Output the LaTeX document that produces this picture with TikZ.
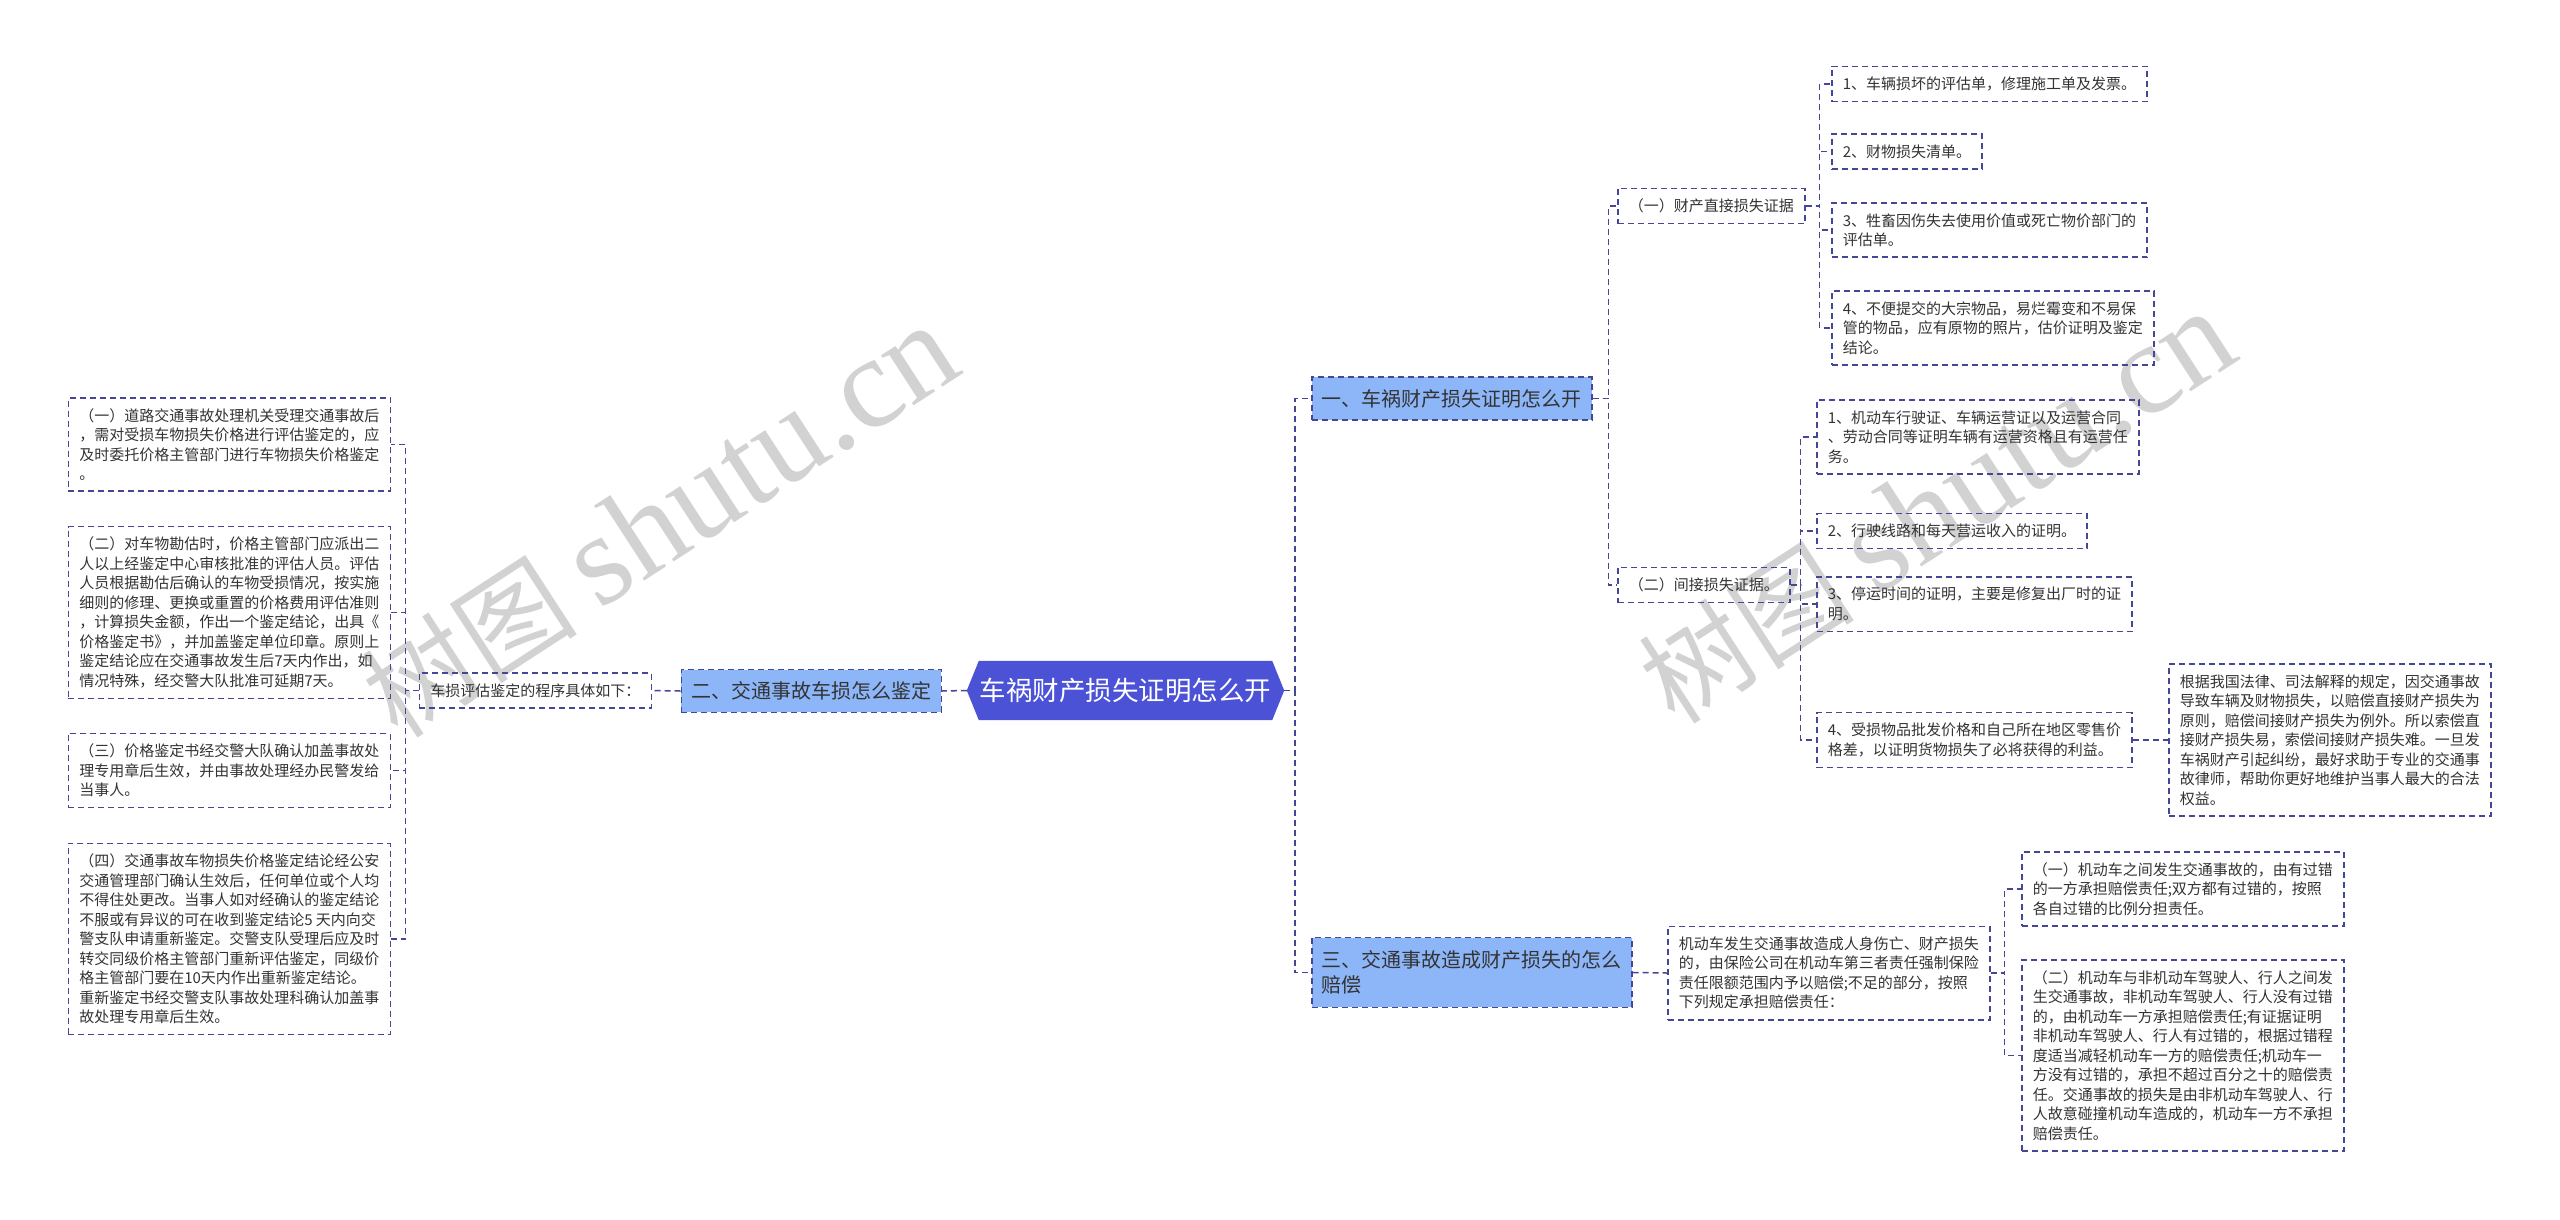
\documentclass[tikz,border=0pt]{standalone}
\usepackage{fontspec}
\setmainfont{Noto Sans CJK SC}
\newfontfamily\wmlatin{Liberation Serif}
\usetikzlibrary{positioning}
\usetikzlibrary{backgrounds}
\definecolor{linec}{RGB}{70,70,150}
\definecolor{rootfill}{RGB}{75,82,214}
\definecolor{topicfill}{RGB}{141,182,249}
\definecolor{leaftext}{RGB}{51,51,51}
\definecolor{wmgray}{RGB}{210,210,210}
\tikzset{link/.style = {draw=linec, line width=1.5pt, dash pattern=on 6pt off 4pt},
         leaf/.style = {link, align=left, text=leaftext, inner xsep=11pt,
                        inner ysep=10.5pt, font=\fontsize{15}{19.5}\selectfont},
         topic/.style = {link, fill=topicfill, align=left, text=leaftext,
                         inner xsep=10pt, inner ysep=12pt, font=\fontsize{20}{25}\selectfont},
         rootbox/.style = {text=white, minimum width=317pt, minimum height=59pt,
                           inner sep=0pt, font=\fontsize{26.5}{30}\selectfont},
         wmark/.style = {text=wmgray, inner sep=0pt, font=\fontsize{108}{110}\selectfont}}

\begin{document}
\begin{tikzpicture}[x=1pt, y=-1pt]
  \useasboundingbox (0,0) rectangle (2560,1219);
  \begin{scope}[on background layer]
    \fill[white] (0,0) rectangle (2560,1219);
  \end{scope}
  \node[wmark, rotate=33] (wm1) at (660,522) {树图 {\wmlatin\fontsize{130}{130}\selectfont shutu.cn}};
  \node[wmark, rotate=33] (wm2) at (1937,508) {树图 {\wmlatin\fontsize{130}{130}\selectfont shutu.cn}};

  % centre
  \node[rootbox] (root) at (1125.5,690.5) {车祸财产损失证明怎么开};
  \begin{scope}[on background layer]
    \fill[rootfill] (root.west) -- ([xshift=12pt]root.north west)
      -- ([xshift=-12pt]root.north east) -- (root.east)
      -- ([xshift=-12pt]root.south east) -- ([xshift=12pt]root.south west) -- cycle;
  \end{scope}

  % left branch
  \node[topic, anchor=east] (t2) at (942,691) {二、交通事故车损怎么鉴定};
  \node[leaf, anchor=east] (proc) at (652,690.5) {车损评估鉴定的程序具体如下：};
  \node[leaf, anchor=east] (l1) at (391,444.5) {（一）道路交通事故处理机关受理交通事故后\\，需对受损车物损失价格进行评估鉴定的，应\\及时委托价格主管部门进行车物损失价格鉴定\\。};
  \node[leaf, anchor=east] (l2) at (391,612.5) {（二）对车物勘估时，价格主管部门应派出二\\人以上经鉴定中心审核批准的评估人员。评估\\人员根据勘估后确认的车物受损情况，按实施\\细则的修理、更换或重置的价格费用评估准则\\，计算损失金额，作出一个鉴定结论，出具《\\价格鉴定书》，并加盖鉴定单位印章。原则上\\鉴定结论应在交通事故发生后7天内作出，如\\情况特殊，经交警大队批准可延期7天。};
  \node[leaf, anchor=east] (l3) at (391,770.5) {（三）价格鉴定书经交警大队确认加盖事故处\\理专用章后生效，并由事故处理经办民警发给\\当事人。};
  \node[leaf, anchor=east] (l4) at (391,939) {（四）交通事故车物损失价格鉴定结论经公安\\交通管理部门确认生效后，任何单位或个人均\\不得住处更改。当事人如对经确认的鉴定结论\\不服或有异议的可在收到鉴定结论5 天内向交\\警支队申请重新鉴定。交警支队受理后应及时\\转交同级价格主管部门重新评估鉴定，同级价\\格主管部门要在10天内作出重新鉴定结论。\\重新鉴定书经交警支队事故处理科确认加盖事\\故处理专用章后生效。};

  % right branch, part one
  \node[topic, anchor=west] (t1) at (1311,398.5) {一、车祸财产损失证明怎么开};
  \node[leaf, anchor=west] (s1) at (1617,206) {（一）财产直接损失证据};
  \node[leaf, anchor=west] (s2) at (1617,585) {（二）间接损失证据。};
  \node[leaf, anchor=west] (a1) at (1831,84) {1、车辆损坏的评估单，修理施工单及发票。};
  \node[leaf, anchor=west] (a2) at (1831,151.5) {2、财物损失清单。};
  \node[leaf, anchor=west] (a3) at (1831,230) {3、牲畜因伤失去使用价值或死亡物价部门的\\评估单。};
  \node[leaf, anchor=west] (a4) at (1831,328) {4、不便提交的大宗物品，易烂霉变和不易保\\管的物品，应有原物的照片，估价证明及鉴定\\结论。};
  \node[leaf, anchor=west] (b1) at (1816,437) {1、机动车行驶证、车辆运营证以及运营合同\\、劳动合同等证明车辆有运营资格且有运营任\\务。};
  \node[leaf, anchor=west] (b2) at (1816,531) {2、行驶线路和每天营运收入的证明。};
  \node[leaf, anchor=west] (b3) at (1816,604) {3、停运时间的证明，主要是修复出厂时的证\\明。};
  \node[leaf, anchor=west] (b4) at (1816,740) {4、受损物品批发价格和自己所在地区零售价\\格差，以证明货物损失了必将获得的利益。};
  \node[leaf, anchor=west] (d) at (2168,740) {根据我国法律、司法解释的规定，因交通事故\\导致车辆及财物损失，以赔偿直接财产损失为\\原则，赔偿间接财产损失为例外。所以索偿直\\接财产损失易，索偿间接财产损失难。一旦发\\车祸财产引起纠纷，最好求助于专业的交通事\\故律师，帮助你更好地维护当事人最大的合法\\权益。};

  % right branch, part three
  \node[topic, anchor=west, inner ysep=13pt] (t3) at (1311,972.5) {三、交通事故造成财产损失的怎么\\赔偿};
  \node[leaf, anchor=west] (c0) at (1667,973) {机动车发生交通事故造成人身伤亡、财产损失\\的，由保险公司在机动车第三者责任强制保险\\责任限额范围内予以赔偿;不足的部分，按照\\下列规定承担赔偿责任：};
  \node[leaf, anchor=west] (c1) at (2021,889) {（一）机动车之间发生交通事故的，由有过错\\的一方承担赔偿责任;双方都有过错的，按照\\各自过错的比例分担责任。};
  \node[leaf, anchor=west] (c2) at (2021,1055.5) {（二）机动车与非机动车驾驶人、行人之间发\\生交通事故，非机动车驾驶人、行人没有过错\\的，由机动车一方承担赔偿责任;有证据证明\\非机动车驾驶人、行人有过错的，根据过错程\\度适当减轻机动车一方的赔偿责任;机动车一\\方没有过错的，承担不超过百分之十的赔偿责\\任。交通事故的损失是由非机动车驾驶人、行\\人故意碰撞机动车造成的，机动车一方不承担\\赔偿责任。};

  % connectors
  \draw[link] (root.west) -- (t2.east);
  \draw[link] (t2.west) -- (proc.east);
  \foreach \n in {l1,l2,l3,l4}
    \draw[link] (proc.west) -- ++(-13,0) |- (\n.east);
  \foreach \n in {t1,t3}
    \draw[link] (root.east) -- ++(11,0) |- (\n.west);
  \foreach \n in {s1,s2}
    \draw[link] (t1.east) -- ++(16,0) |- (\n.west);
  \foreach \n in {a1,a2,a3,a4}
    \draw[link] (s1.east) -- ++(14,0) |- (\n.west);
  \foreach \n in {b1,b2,b3,b4}
    \draw[link] (s2.east) -- ++(10,0) |- (\n.west);
  \draw[link] (b4.east) -- (d.west);
  \draw[link] (t3.east) -- (c0.west);
  \foreach \n in {c1,c2}
    \draw[link] (c0.east) -- ++(14,0) |- (\n.west);
\end{tikzpicture}
\end{document}
